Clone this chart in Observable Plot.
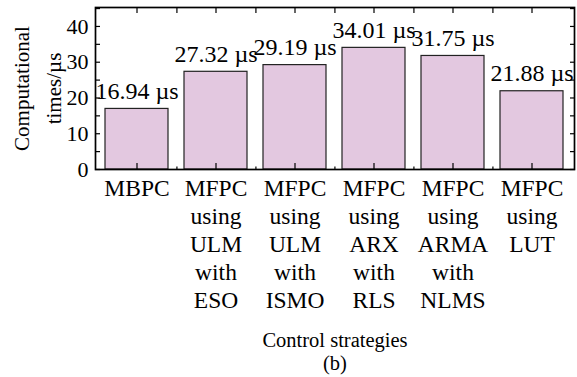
<!DOCTYPE html>
<html>
<head>
<meta charset="utf-8">
<script src="https://cdn.jsdelivr.net/npm/d3@7"></script>
<script src="https://cdn.jsdelivr.net/npm/@observablehq/plot@0.6"></script>
<style>
  html, body { margin: 0; padding: 0; background: white; }
</style>
</head>
<body>
<div id="chart"></div>
<script>
const categories = [
  "MBPC",
  "MFPC\nusing\nULM\nwith\nESO",
  "MFPC\nusing\nULM\nwith\nISMO",
  "MFPC\nusing\nARX\nwith\nRLS",
  "MFPC\nusing\nARMA\nwith\nNLMS",
  "MFPC\nusing\nLUT"
];
const times = [16.94, 27.32, 29.19, 34.01, 31.75, 21.88];
const yTicks = [0, 10, 20, 30, 40];
const yAllTicks = [0, 5, 10, 15, 20, 25, 30, 35, 40, 45];
const yTitle = "Computational\ntimes/\u00b5s";
const xTitle = "Control strategies\n(b)";

const data = categories.map((c, i) => ({cat: c, t: times[i], label: times[i].toFixed(2) + " \u00b5s"}));

const W = 577, H = 377;
const mL = 95, mR = 3, mT = 7, mB = 208;
const step = (W - mL - mR) / categories.length;
const boundaries = categories.slice(0, -1);

const chart = Plot.plot({
  width: W,
  height: H,
  marginLeft: mL,
  marginRight: mR,
  marginTop: mT,
  marginBottom: mB,
  style: {fontFamily: "'Liberation Serif', 'Times New Roman', serif", fontSize: "21px", background: "white", color: "black"},
  x: {domain: categories, paddingInner: 0.2, paddingOuter: 0.1, label: null},
  y: {domain: [0, 45.3], label: null},
  marks: [
    Plot.barY(data, {x: "cat", y: "t", fill: "#e3c8e0", stroke: "#222", strokeWidth: 1.2}),
    Plot.text(data, {x: "cat", y: "t", text: "label", lineAnchor: "middle", dy: -17.5, fontSize: 24}),
    // left axis
    Plot.axisY({anchor: "left", ticks: yAllTicks, tickSize: 5, dx: 5, text: null, label: null, stroke: "black", strokeWidth: 1.2}),
    Plot.axisY({anchor: "left", ticks: yTicks, tickSize: 0, tickPadding: 7, fontSize: 22, label: null}),
    // right axis ticks
    Plot.axisY({anchor: "right", ticks: yAllTicks, tickSize: 5, dx: -5, text: null, label: null, stroke: "black", strokeWidth: 1.2}),
    // bottom axis
    Plot.axisX({anchor: "bottom", tickSize: 6, dy: -6, text: null, label: null, stroke: "black", strokeWidth: 1.2}),
    Plot.axisX({anchor: "bottom", ticks: boundaries, tickSize: 2.5, dy: -2.5, dx: step / 2, text: null, label: null, stroke: "black", strokeWidth: 1.2}),
    Plot.axisX({anchor: "bottom", tickSize: 0, tickPadding: 7, fontSize: 23.5, lineHeight: 1.19, label: null}),
    // top axis ticks
    Plot.axisX({anchor: "top", tickSize: 5, dy: 5, text: null, label: null, stroke: "black", strokeWidth: 1.2}),
    Plot.axisX({anchor: "top", ticks: boundaries, tickSize: 5, dy: 5, dx: step / 2, text: null, label: null, stroke: "black", strokeWidth: 1.2}),
    Plot.frame({stroke: "black", strokeWidth: 1.7}),
    // titles
    Plot.text([yTitle], {frameAnchor: "left", dx: -61, rotate: -90, textAnchor: "middle", lineAnchor: "middle", lineHeight: 1.52, fontSize: 21}),
    Plot.text([xTitle], {frameAnchor: "bottom", dy: 161, textAnchor: "middle", lineAnchor: "top", lineHeight: 1.12, fontSize: 20.5})
  ]
});
document.getElementById("chart").appendChild(chart);
</script>
</body>
</html>
